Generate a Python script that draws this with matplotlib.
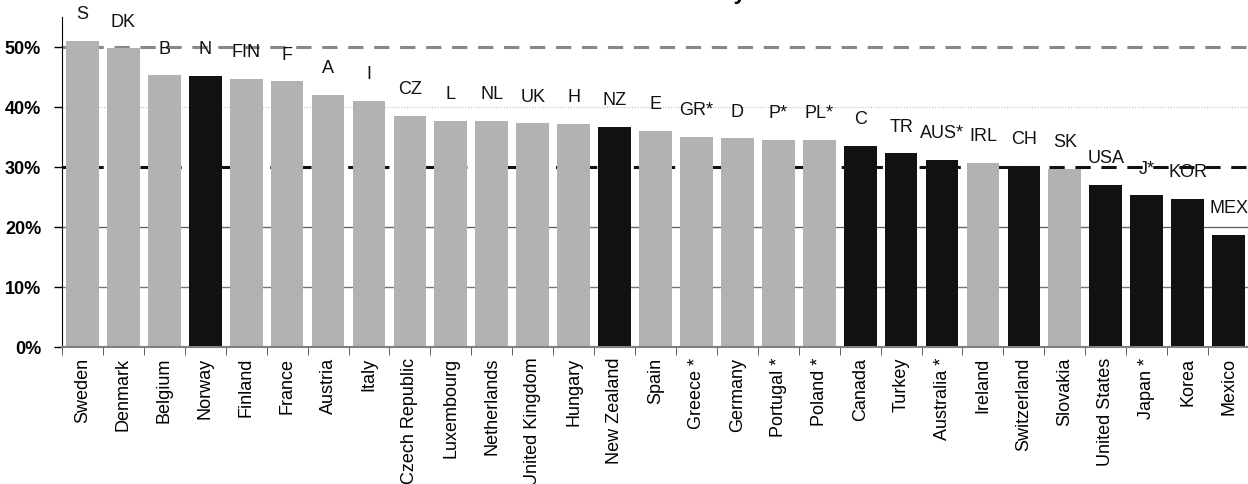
import matplotlib as mpl
mpl.use('Agg')

import numpy as np
import matplotlib.pyplot as plt


# data: tax share per country, sorted high to low
countries = ['Sweden', 'Denmark', 'Belgium', 'Norway', 'Finland', 'France', 'Austria',
             'Italy', 'Czech Republic', 'Luxembourg', 'Netherlands', 'United Kingdom',
             'Hungary', 'New Zealand', 'Spain', 'Greece *', 'Germany', 'Portugal *',
             'Poland *', 'Canada', 'Turkey', 'Australia *', 'Ireland', 'Switzerland',
             'Slovakia', 'United States', 'Japan *', 'Korea', 'Mexico']
codes = ['S', 'DK', 'B', 'N', 'FIN', 'F', 'A', 'I', 'CZ', 'L', 'NL', 'UK', 'H', 'NZ',
         'E', 'GR*', 'D', 'P*', 'PL*', 'C', 'TR', 'AUS*', 'IRL', 'CH', 'SK', 'USA',
         'J*', 'KOR', 'MEX']
values = [51.0, 49.8, 45.3, 45.2, 44.7, 44.3, 42.0, 41.0, 38.5, 37.7, 37.7, 37.3,
          37.2, 36.7, 36.0, 35.0, 34.8, 34.5, 34.5, 33.5, 32.3, 31.2, 30.7, 30.2,
          29.7, 27.0, 25.3, 24.7, 18.7]
dark = ['Norway', 'New Zealand', 'Canada', 'Turkey', 'Australia *', 'Switzerland',
        'United States', 'Japan *', 'Korea', 'Mexico']

GREY = '#b2b2b2'
BLACK = '#111111'
FONT = ['Liberation Sans', 'DejaVu Sans']

fig = plt.figure(figsize=(12.48, 4.85), dpi=100, facecolor='white')
ax = fig.add_axes([62/1248, 1-348/485, 1187/1248, 330/485])

x = np.arange(len(countries))
colors = [BLACK if c in dark else GREY for c in countries]
ax.bar(x, values, width=0.8, color=colors, zorder=2)

# reference lines behind the bars
ax.axhline(50, color='#888888', lw=2.2, ls=(0, (5, 3.5)), zorder=1)
ax.axhline(40, color='#bbbbbb', lw=0.8, ls=(0, (1, 1.5)), zorder=1)
ax.axhline(30, color='#111111', lw=2.2, ls=(0, (5, 3.5)), zorder=1)
ax.axhline(20, color='#666666', lw=1.0, zorder=1)
ax.axhline(10, color='#777777', lw=1.0, zorder=1)

for xi, v, c in zip(x, values, codes):
    ax.annotate(c, (xi, v), xytext=(0, 19.5), textcoords='offset points',
                ha='center', va='center', fontsize=13, family=FONT,
                color='#111111', zorder=5)

ax.set_xlim(-0.5, len(countries) - 0.5)
ax.set_ylim(0, 55)
ax.set_yticks([0, 10, 20, 30, 40, 50])
ax.set_yticklabels(['0%', '10%', '20%', '30%', '40%', '50%'],
                   fontweight='bold', fontsize=13, family=FONT)
ax.set_xticks(x)
ax.set_xticklabels(countries, rotation=90, fontsize=13, family=FONT, va='top')
ax.set_xticks(np.arange(len(countries) + 1) - 0.5, minor=True)

ax.tick_params(axis='x', which='major', length=0, pad=7)
ax.tick_params(axis='x', which='minor', length=6, color='#444444', direction='out')
ax.tick_params(axis='y', length=6, width=1, direction='out', pad=9)

ax.spines['top'].set_visible(False)
ax.spines['right'].set_visible(False)
ax.spines['left'].set_color('black')
ax.spines['bottom'].set_color('#808080')
ax.spines['bottom'].set_linewidth(1.5)

# title sits above the canvas; only its last descender shows
fig.text(746/1248, 1 + 1.5/485, 'Total tax revenue in each country', ha='right',
         va='baseline', fontsize=16, fontweight='bold', family=FONT)

fig.savefig('out.png', dpi=100)
